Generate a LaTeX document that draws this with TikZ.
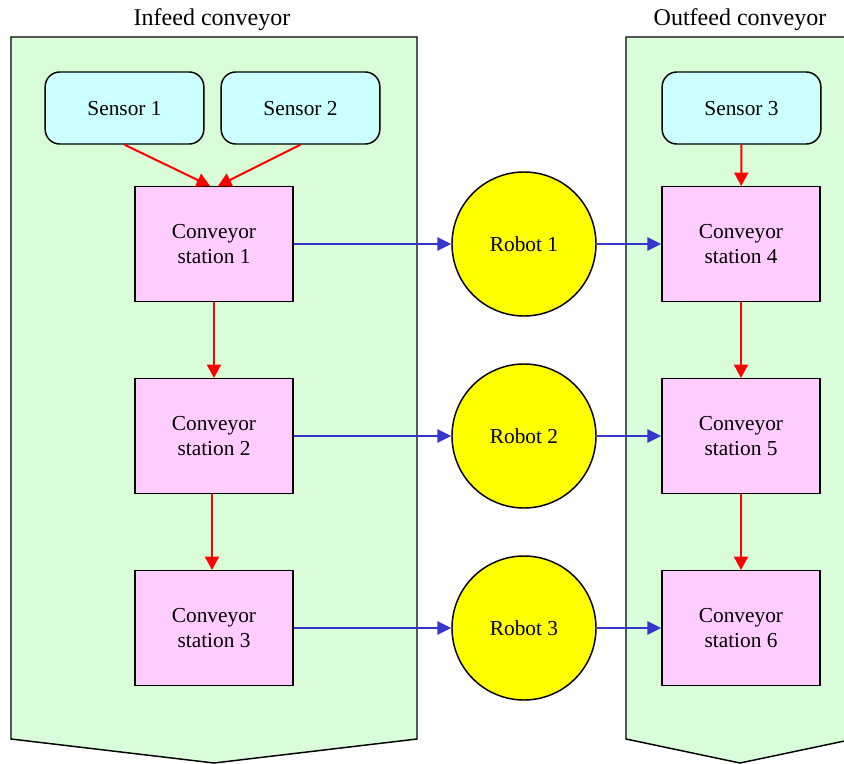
\documentclass[tikz,border=0pt]{standalone}
\usepackage{fontspec}
\setmainfont{Liberation Serif}
\usetikzlibrary{arrows.meta}

\definecolor{lanegreen}{HTML}{D9FDD9}
\definecolor{sensorcyan}{HTML}{CCFFFF}
\definecolor{stationpink}{HTML}{FFCCFF}
\definecolor{robotyellow}{HTML}{FFFF00}
\definecolor{linkblue}{HTML}{3535CC}
\definecolor{feedred}{HTML}{FF0000}

\begin{document}
\begin{tikzpicture}[x=0.75pt,y=-0.75pt,
  lane/.style={draw=black, line width=1.1pt, fill=lanegreen},
  lanetitle/.style={font=\fontsize{18}{21}\selectfont, inner sep=0pt},
  sensorbox/.style={draw=black, line width=1.1pt, fill=sensorcyan, rounded corners=11pt,
    minimum width=119pt, minimum height=54pt, inner sep=0pt, text depth=0pt,
    font=\fontsize{16}{19}\selectfont},
  stationbox/.style={draw=black, line width=1.1pt, fill=stationpink,
    minimum width=118.5pt, minimum height=86pt, inner sep=0pt, align=center,
    font=\fontsize{16}{19}\selectfont},
  robotnode/.style={draw=black, line width=1.1pt, fill=robotyellow, circle,
    minimum size=108pt, inner sep=0pt, font=\fontsize{16}{19}\selectfont},
  feed/.style={draw=feedred, line width=1.5pt,
    -{Triangle[length=10pt,width=10.5pt]}},
  link/.style={draw=linkblue, line width=1.5pt,
    -{Triangle[length=10.5pt,width=10pt]}}
]
\useasboundingbox (0,0) rectangle (844,764);
\clip (0,0) rectangle (844,764);

% conveyor lanes
\draw[lane] (11,37) -- (417,37) -- (417,739) -- (214,763) -- (11,739) -- cycle;
\draw[lane] (626,37) -- (854,37) -- (854,739) -- (740,763) -- (626,739) -- cycle;
\node[lanetitle] (tin)  at (212,19.5) {Infeed conveyor};
\node[lanetitle] (tout) at (740,19.5) {Outfeed conveyor};

% sensors
\node[sensorbox] (s1) at (124.5,108) {Sensor 1};
\node[sensorbox] (s2) at (300.5,108) {Sensor 2};
\node[sensorbox] (s3) at (741.5,108) {Sensor 3};

% conveyor stations
\node[stationbox] (c1) at (214,244) {Conveyor\\station 1};
\node[stationbox] (c2) at (214,436) {Conveyor\\station 2};
\node[stationbox] (c3) at (214,628) {Conveyor\\station 3};
\node[stationbox] (c4) at (741,244) {Conveyor\\station 4};
\node[stationbox] (c5) at (741,436) {Conveyor\\station 5};
\node[stationbox] (c6) at (741,628) {Conveyor\\station 6};

% robots
\node[robotnode] (r1) at (524,244) {Robot 1};
\node[robotnode] (r2) at (524,436) {Robot 2};
\node[robotnode] (r3) at (524,628) {Robot 3};

% sensor and conveyor flow
\draw[feed] (s1.south) -- ([xshift=-3pt]c1.north);
\draw[feed] (s2.south) -- ([xshift=3pt]c1.north);
\draw[feed] (c1) -- (c2);
\draw[feed] ([xshift=-1.5pt]c2.south) -- ([xshift=-1.5pt]c3.north);
\draw[feed] (s3) -- (c4);
\draw[feed] (c4) -- (c5);
\draw[feed] (c5) -- (c6);

% robot transfers
\draw[link] (c1) -- (r1);
\draw[link] (r1) -- (c4);
\draw[link] (c2) -- (r2);
\draw[link] (r2) -- (c5);
\draw[link] (c3) -- (r3);
\draw[link] (r3) -- (c6);
\end{tikzpicture}
\end{document}
